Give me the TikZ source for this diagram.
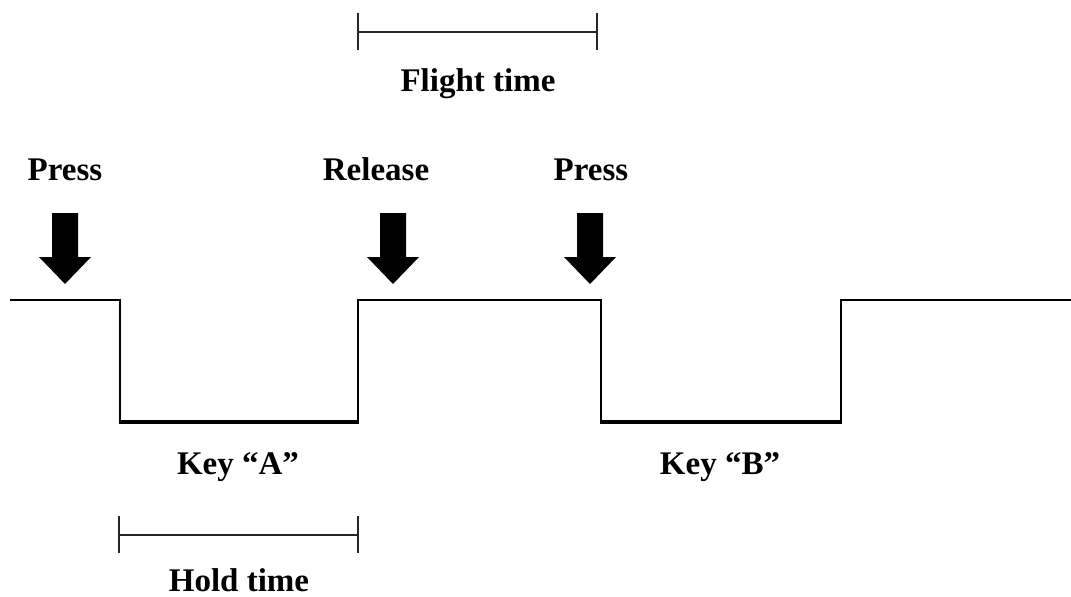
\documentclass[tikz,border=0pt]{standalone}
\usepackage{fontspec}
\setmainfont{Liberation Serif}
\begin{document}
\begin{tikzpicture}[x=1pt,y=-1pt,
  lbl/.style={font=\fontsize{33}{37}\selectfont\bfseries, inner sep=0pt, anchor=base},
  wave/.style={line width=2pt, line join=miter},
  span/.style={line width=1.8pt, draw=black!85},
  keyarrow/.style={fill=black, draw=none}]
\useasboundingbox (0,0) rectangle (1071,597);

% key signal: high = released, low = pressed
\draw[wave] (10,300) -- (120,300) -- (120,422);
\draw[line width=4pt] (119,422) -- (359,422);
\draw[wave] (358,422) -- (358,300) -- (601,300) -- (601,422);
\draw[line width=4pt] (600,422) -- (842,422);
\draw[wave] (841,422) -- (841,300) -- (1071,300);

% block arrows marking key events
\foreach \cx/\nm in {65/pa, 393/ra, 590/pb}{
  \fill[keyarrow] (\cx-13,213) -- (\cx+13,213) -- (\cx+13,257) -- (\cx+26,257)
    -- (\cx,284) -- (\cx-26,257) -- (\cx-13,257) -- cycle;
  \coordinate (\nm) at (\cx,213);
}
\node[lbl] (press1) at (65,180) {Press};
\node[lbl] (release) at (376,180) {Release};
\node[lbl] (press2) at (591,180) {Press};

% key labels
\node[lbl] (keyA) at (238,474) {Key “A”};
\node[lbl] (keyB) at (720,474) {Key “B”};

% flight time span
\coordinate (f1) at (358,32);
\coordinate (f2) at (597,32);
\draw[span] (f1) -- (f2);
\draw[span] ([yshift=-18pt]f1) -- ([yshift=19pt]f1);
\draw[span] ([yshift=-18pt]f2) -- ([yshift=19pt]f2);
\node[lbl] (flight) at (478,91) {Flight time};

% hold time span
\coordinate (h1) at (119,535);
\coordinate (h2) at (358,535);
\draw[span] (h1) -- (h2);
\draw[span] ([yshift=-18pt]h1) -- ([yshift=19pt]h1);
\draw[span] ([yshift=-18pt]h2) -- ([yshift=19pt]h2);
\node[lbl] (hold) at (239,591) {Hold time};
\end{tikzpicture}
\end{document}
